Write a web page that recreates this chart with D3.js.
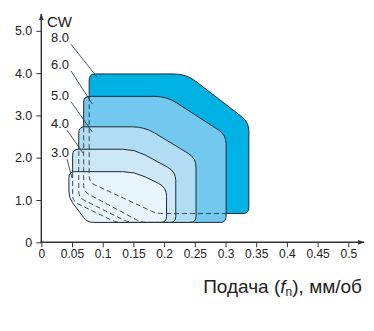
<!DOCTYPE html>
<head>
  <meta charset="utf-8">
  <title>CW vs feed</title>
  <style>
    body { margin: 0; background: #fff; }
    text { font-family: "Liberation Sans", Arial, sans-serif; fill: #222; }
  </style>
</head>
<body>
<script src="https://d3js.org/d3.v7.min.js"></script>
<script>
// depth of cut levels, drawn from the largest (back) to the smallest (front)
const levels     = ["8.0", "6.0", "5.0", "4.0", "3.0"];
const xLeft      = [0.078, 0.069, 0.061, 0.051, 0.045];
const yTop       = [3.98, 3.45, 2.73, 2.20, 1.67];
const xTopEnd    = [0.236, 0.204, 0.168, 0.152, 0.152];
const xRight     = [0.338, 0.301, 0.252, 0.219, 0.204];
const yDiagEnd   = [2.84, 2.54, 1.99, 1.67, 1.30];
const yBottom    = [0.68, 0.47, 0.47, 0.47, 0.47];
const xBotStart  = [0.188, 0.163, 0.142, 0.122, 0.075];
const yLeftLow   = [1.42, 1.20, 1.06, 0.97, 1.05];
// where the label leader lines touch each area
const leadX      = [0.091, 0.083, 0.083, 0.068, 0.050];
const leadY      = [3.90, 3.27, 2.61, 2.11, 1.52];
const labelY     = [4.73, 4.10, 3.37, 2.70, 2.02];

const xTicks = [0, 0.05, 0.1, 0.15, 0.2, 0.25, 0.3, 0.35, 0.4, 0.45, 0.5];
const yTicks = [0, 1, 2, 3, 4, 5];

const colors = ["#00b2e3", "#72c8ee", "#b0ddf4", "#cce8f7", "#e9f5fc"];

const W = 374, H = 331;
const x = d3.scaleLinear().domain([0, 0.5]).range([41.3, 348.3]);
const y = d3.scaleLinear().domain([0, 5]).range([242.3, 30.8]);

const svg = d3.select("body").append("svg")
  .attr("width", W).attr("height", H);

const defs = svg.append("defs");
defs.append("marker")
  .attr("id", "arrow").attr("viewBox", "0 0 10 10")
  .attr("refX", 9).attr("refY", 5)
  .attr("markerWidth", 7).attr("markerHeight", 7)
  .attr("markerUnits", "userSpaceOnUse")
  .attr("orient", "auto")
  .append("path").attr("d", "M0,1.5L10,5L0,8.5Z").attr("fill", "#333");

// rounded polygon path
function roundPath(pts, radii) {
  const n = pts.length;
  let d = "";
  for (let i = 0; i < n; i++) {
    const p = pts[i], a = pts[(i - 1 + n) % n], b = pts[(i + 1) % n];
    const la = Math.hypot(a[0] - p[0], a[1] - p[1]);
    const lb = Math.hypot(b[0] - p[0], b[1] - p[1]);
    const r = Math.min(radii[i], la / 2, lb / 2);
    const p1 = [p[0] + (a[0] - p[0]) * r / la, p[1] + (a[1] - p[1]) * r / la];
    const p2 = [p[0] + (b[0] - p[0]) * r / lb, p[1] + (b[1] - p[1]) * r / lb];
    d += (i === 0 ? "M" : "L") + p1[0] + "," + p1[1];
    d += "Q" + p[0] + "," + p[1] + " " + p2[0] + "," + p2[1];
  }
  return d + "Z";
}

const radii = [6, 12, 9, 6, 6, 6];
const shapes = levels.map((lv, i) => roundPath([
  [x(xLeft[i]), y(yTop[i])],
  [x(xTopEnd[i]), y(yTop[i])],
  [x(xRight[i]), y(yDiagEnd[i])],
  [x(xRight[i]), y(yBottom[i])],
  [x(xBotStart[i]), y(yBottom[i])],
  [x(xLeft[i]), y(yLeftLow[i])]
], radii));

// clip = union of the smaller areas in front of each one
levels.forEach((lv, i) => {
  const cp = defs.append("clipPath").attr("id", "front" + i);
  for (let j = i + 1; j < levels.length; j++) cp.append("path").attr("d", shapes[j]);
});

const areas = svg.append("g");
shapes.forEach((d, i) => {
  areas.append("path").attr("d", d)
    .attr("fill", colors[i])
    .attr("stroke", "#1d2a38").attr("stroke-width", 1);
});

// hidden edges as dashes
const hidden = svg.append("g");
shapes.forEach((d, i) => {
  if (i === levels.length - 1) return;
  hidden.append("path").attr("d", d)
    .attr("clip-path", `url(#front${i})`)
    .attr("fill", "none")
    .attr("stroke", "#2b3a4a").attr("stroke-width", 0.9)
    .attr("stroke-dasharray", "5,3");
});

// axes
const xAxis = svg.append("g").attr("transform", `translate(0,${y(0)})`)
  .call(d3.axisBottom(x).tickValues(xTicks).tickSizeInner(5).tickSizeOuter(0)
    .tickFormat(d => d === 0 ? "0" : String(+d.toFixed(2))));
xAxis.select(".domain").remove();
xAxis.selectAll("line").attr("stroke", "#333");
xAxis.selectAll("text").attr("font-size", 12).attr("fill", "#222")
  .attr("font-family", "Liberation Sans, Arial, sans-serif").attr("dy", "0.72em").attr("y", 7);

const yAxis = svg.append("g").attr("transform", `translate(${x(0)},0)`)
  .call(d3.axisLeft(y).tickValues(yTicks).tickSizeInner(5).tickSizeOuter(0)
    .tickFormat(d => d === 0 ? "0" : d.toFixed(1)));
yAxis.select(".domain").remove();
yAxis.selectAll("line").attr("stroke", "#333");
yAxis.selectAll("text").attr("font-size", 12.5).attr("fill", "#222")
  .attr("font-family", "Liberation Sans, Arial, sans-serif").attr("x", -9);

svg.append("line")
  .attr("x1", x(0)).attr("x2", x(0)).attr("y1", y(0)).attr("y2", 14)
  .attr("stroke", "#333").attr("stroke-width", 1.4).attr("marker-end", "url(#arrow)");
svg.append("line")
  .attr("x1", x(0) - 1).attr("x2", 364).attr("y1", y(0)).attr("y2", y(0))
  .attr("stroke", "#333").attr("stroke-width", 1.4).attr("marker-end", "url(#arrow)");

svg.append("text").attr("x", 47).attr("y", 27).attr("font-size", 15).text("CW");

// level labels with leaders
const lab = svg.append("g");
levels.forEach((lv, i) => {
  const ty = y(labelY[i]);
  lab.append("text").attr("x", 51).attr("y", ty).attr("font-size", 13).text(lv);
  lab.append("line")
    .attr("x1", i >= 3 ? 67 : 71).attr("y1", ty + 2)
    .attr("x2", x(leadX[i])).attr("y2", y(leadY[i]))
    .attr("stroke", "#1d2a38").attr("stroke-width", 0.8);
});

// x axis title
const title = svg.append("text").attr("x", 362).attr("y", 293)
  .attr("text-anchor", "end").attr("font-size", 19);
title.append("tspan").text("Подача (");
title.append("tspan").attr("font-style", "italic").text("f");
title.append("tspan").attr("font-size", 12).attr("dy", 3).text("n");
title.append("tspan").attr("dy", -3).text("), мм/об");
</script>
</body>
</html>
